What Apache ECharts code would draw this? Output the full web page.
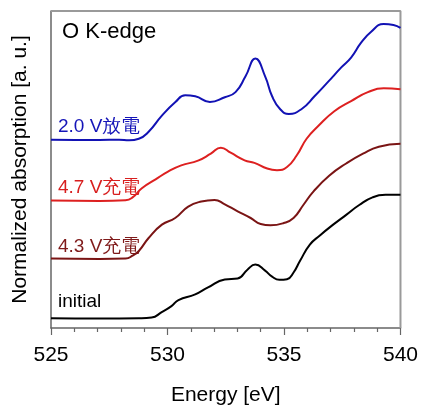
<!DOCTYPE html>
<html>
<head>
<meta charset="utf-8">
<script src="https://cdn.jsdelivr.net/npm/echarts@6/dist/echarts.min.js"></script>
<style>
html,body{margin:0;padding:0;background:#fff;overflow:hidden;}
#c{width:421px;height:411px;}
</style>
</head>
<body>
<div id="c"></div>
<script>
// Energy [eV] and normalized absorption (offset, arbitrary units)
const initialE = [525.0,527.08,528.77,529.32,529.75,530.17,530.47,531.19,531.74,532.46,533.01,533.43,533.77,534.19,534.49,534.80,535.13,535.41,535.69,536.11,536.54,537.11,537.67,538.23,538.80,539.36,540.0];
const initialY = [0.31,0.30,0.31,0.33,0.50,0.69,0.88,1.06,1.28,1.53,1.56,1.84,2.00,1.81,1.62,1.52,1.54,1.75,2.12,2.63,2.92,3.26,3.57,3.88,4.12,4.20,4.20];

const v43E = [525.0,527.08,528.20,528.50,528.77,529.19,529.76,530.33,530.89,531.45,532.02,532.44,533.01,533.57,534.00,534.42,534.99,535.41,535.83,536.27,536.95,537.67,538.39,539.07,540.0];
const v43Y = [2.19,2.18,2.19,2.28,2.43,2.84,3.26,3.47,3.83,3.99,4.04,3.91,3.68,3.47,3.28,3.24,3.31,3.47,3.88,4.31,4.81,5.19,5.50,5.72,5.81];

const v47E = [525.0,527.08,528.20,528.50,528.90,529.49,530.04,530.59,531.31,531.86,532.29,532.71,533.31,533.73,534.28,534.70,535.13,535.55,535.97,536.48,537.16,537.88,538.60,539.28,540.0];
const v47Y = [4.02,4.01,4.03,4.12,4.41,4.69,4.94,5.13,5.28,5.50,5.69,5.53,5.29,5.21,5.03,4.98,5.08,5.45,5.97,6.38,6.84,7.16,7.44,7.56,7.53];

const v20E = [525.0,527.08,527.92,528.35,528.77,529.19,529.75,530.34,530.76,531.19,531.82,532.46,532.92,533.35,533.77,534.19,534.49,534.83,535.21,535.76,536.31,536.91,537.46,537.88,538.31,538.73,539.28,539.70,540.0];
const v20Y = [5.94,5.93,5.94,5.92,5.97,6.19,6.69,7.13,7.34,7.31,7.13,7.28,7.44,7.94,8.50,7.94,7.31,6.91,6.75,6.91,7.31,7.78,8.22,8.53,9.00,9.34,9.59,9.56,9.47];

const xTicks = [525,530,535,540];
const yRange = [0,10];

function pairs(xs, ys){ return xs.map((x,i)=>[x, ys[i]]); }

const chart = echarts.init(document.getElementById('c'), null, {renderer:'canvas', width:421, height:411});
const font = 'Liberation Sans, Arial, sans-serif';
const lineSeries = (name, xs, ys, color) => ({
  name, type:'line', data: pairs(xs, ys), smooth: 0.5, showSymbol:false,
  lineStyle:{color, width:2}, itemStyle:{color}, z:3
});
const xMin = xTicks[0], xMax = xTicks[xTicks.length-1];
chart.setOption({
  animation:false,
  grid:{left:51, right:16, top:11, bottom:80, show:false},
  xAxis:{
    type:'value', min:xMin, max:xMax, interval:5,
    name:'Energy [eV]', nameLocation:'middle', nameGap:57,
    nameTextStyle:{fontFamily:font, fontSize:21, color:'#000'},
    axisLine:{show:true, lineStyle:{color:'#666', width:1.5}},
    axisTick:{show:true, length:7, inside:false, lineStyle:{color:'#666', width:1.2}},
    minorTick:{show:true, splitNumber:5, length:4, lineStyle:{color:'#666', width:1.2}},
    axisLabel:{fontFamily:font, fontSize:21, color:'#000', margin:17},
    splitLine:{show:false}
  },
  yAxis:{
    type:'value', min:yRange[0], max:yRange[1],
    name:'Normalized absorption [a. u.]', nameLocation:'middle', nameGap:20,
    nameTextStyle:{fontFamily:font, fontSize:21, color:'#000'},
    axisLine:{show:true, lineStyle:{color:'#666', width:1.5}},
    axisTick:{show:false}, axisLabel:{show:false}, splitLine:{show:false}
  },
  graphic:[
    {type:'text', left:62, top:21, style:{text:'O K-edge', fontFamily:font, fontSize:22, fill:'#000'}},
    {type:'text', left:58, top:117, style:{text:'2.0 V放電', fontFamily:font, fontSize:19, fill:'#1414b8'}},
    {type:'text', left:58, top:178, style:{text:'4.7 V充電', fontFamily:font, fontSize:19, fill:'#d81e1e'}},
    {type:'text', left:58, top:237, style:{text:'4.3 V充電', fontFamily:font, fontSize:19, fill:'#7f1a1a'}},
    {type:'text', left:58, top:292, style:{text:'initial', fontFamily:font, fontSize:19, fill:'#000'}}
  ],
  series:[
    {name:'frame', type:'line', silent:true, showSymbol:false, clip:false, z:1,
     data:[[xMin, yRange[1]],[xMax, yRange[1]],[xMax, yRange[0]]],
     lineStyle:{color:'#9a9a9a', width:2}},
    lineSeries('initial', initialE, initialY, '#000000'),
    lineSeries('4.3 V充電', v43E, v43Y, '#7a1414'),
    lineSeries('4.7 V充電', v47E, v47Y, '#dd2020'),
    lineSeries('2.0 V放電', v20E, v20Y, '#1212b4')
  ]
});
</script>
</body>
</html>
